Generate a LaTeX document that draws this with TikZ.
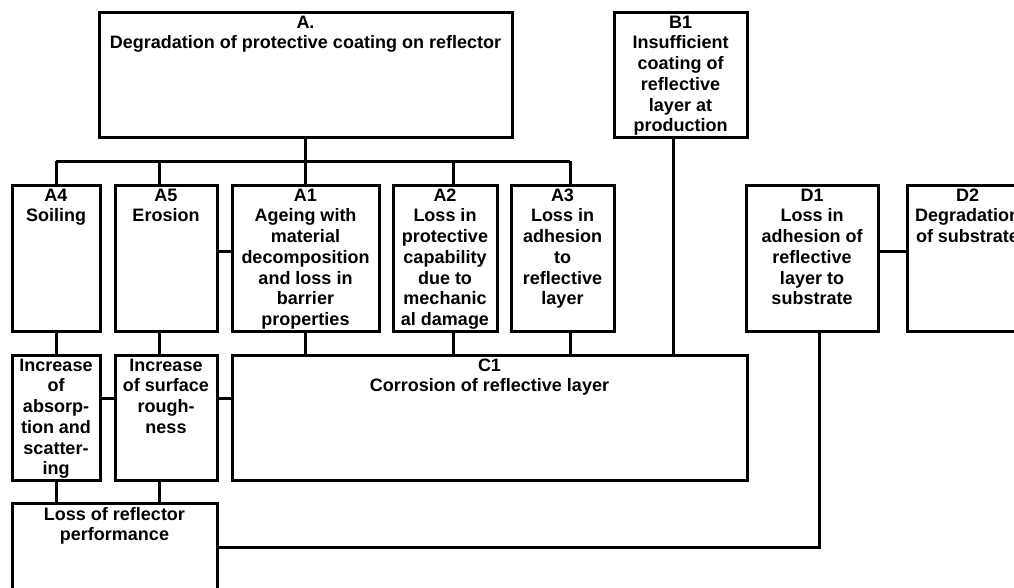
\documentclass[tikz,border=0pt]{standalone}
\usepackage{fontspec}
\setmainfont{Liberation Sans}
\newcommand{\tp}{\rule{0pt}{13.5pt}}
\begin{document}
\begin{tikzpicture}[x=1pt,y=1pt,
  box/.style={draw, line width=3pt, rectangle, inner sep=0pt},
  lbl/.style={anchor=north, inner sep=0pt, align=center,
    font=\fontsize{18}{20.7}\selectfont\bfseries, text=black},
  wire/.style={line width=3pt}]
\useasboundingbox (0,0) rectangle (1014,-587);
\clip (0,0) rectangle (1014,-587);
\fill[white] (0,0) rectangle (1014,-587);
% top boxes
\node[box, minimum width=413pt, minimum height=125pt] (A) at (305.5,-74.5) {};
\node[box, minimum width=133pt, minimum height=125pt] (B1) at (680.5,-74.5) {};
% row 1
\node[box, minimum width=88pt,  minimum height=146pt] (A4) at (56,-258) {};
\node[box, minimum width=102pt, minimum height=146pt] (A5) at (166,-258) {};
\node[box, minimum width=147pt, minimum height=146pt] (A1) at (305.5,-258) {};
\node[box, minimum width=104pt, minimum height=146pt] (A2) at (445,-258) {};
\node[box, minimum width=103pt, minimum height=146pt] (A3) at (562.5,-258) {};
\node[box, minimum width=132pt, minimum height=146pt] (D1) at (812,-258) {};
\node[box, minimum width=121pt, minimum height=146pt] (D2) at (967.5,-258) {};
% row 2
\node[box, minimum width=88pt,  minimum height=125pt] (AB) at (56,-417.5) {};
\node[box, minimum width=102pt, minimum height=125pt] (RO) at (166,-417.5) {};
\node[box, minimum width=515pt, minimum height=125pt] (C1) at (489.5,-417.5) {};
% bottom
\node[box, minimum width=205pt, minimum height=130pt] (L) at (114.5,-568) {};
% texts
\node[lbl] (tA) at ([yshift=-4pt]A.north) {\tp A.\\Degradation of protective coating on reflector};
\node[lbl] (tB1) at ([yshift=-4pt]B1.north) {\tp B1\\Insufficient\\coating of\\reflective\\layer at\\production};
\node[lbl] (tA4) at ([yshift=-4pt]A4.north) {\tp A4\\Soiling};
\node[lbl] (tA5) at ([yshift=-4pt]A5.north) {\tp A5\\Erosion};
\node[lbl] (tA1) at ([yshift=-4pt]A1.north) {\tp A1\\Ageing with\\material\\decomposition\\and loss in\\barrier\\properties};
\node[lbl] (tA2) at ([yshift=-4pt]A2.north) {\tp A2\\Loss in\\protective\\capability\\due to\\mechanic\\al damage};
\node[lbl] (tA3) at ([yshift=-4pt]A3.north) {\tp A3\\Loss in\\adhesion\\to\\reflective\\layer};
\node[lbl] (tD1) at ([yshift=-4pt]D1.north) {\tp D1\\Loss in\\adhesion of\\reflective\\layer to\\substrate};
\node[lbl] (tD2) at ([yshift=-4pt]D2.north) {\tp D2\\Degradation\\of substrate};
\node[lbl] (tAB) at ([yshift=-4pt]AB.north) {\tp Increase\\of\\absorp-\\tion and\\scatter-\\ing};
\node[lbl] (tRO) at ([yshift=-4pt]RO.north) {\tp Increase\\of surface\\rough-\\ness};
\node[lbl] (tC1) at ([yshift=-4pt]C1.north) {\tp C1\\Corrosion of reflective layer};
\node[lbl] (tL) at ([yshift=-5pt]L.north) {\tp Loss of reflector\\performance};
% connector x positions
\coordinate (x5) at (159,0);
\coordinate (x2) at (453,0);
\coordinate (x3) at (570,0);
\coordinate (xB) at (673,0);
\coordinate (xD) at (819,0);
\coordinate (bus) at (0,-161);
\coordinate (yH1) at (0,-251);
\coordinate (yH2) at (0,-398);
\coordinate (yL) at (0,-547);
% bus from A
\draw[wire] (A.south) -- (A1.north);
\draw[wire] (A4.north |- bus) -- (x3 |- bus);
\draw[wire] (A4.north |- bus) -- (A4.north);
\draw[wire] (x5 |- bus) -- (x5 |- A5.north);
\draw[wire] (x2 |- bus) -- (x2 |- A2.north);
\draw[wire] (x3 |- bus) -- (x3 |- A3.north);
% row1 to row2
\draw[wire] (A4.south) -- (AB.north);
\draw[wire] (x5 |- A5.south) -- (x5 |- RO.north);
\draw[wire] (A1.south) -- (A1.south |- C1.north);
\draw[wire] (x2 |- A2.south) -- (x2 |- C1.north);
\draw[wire] (x3 |- A3.south) -- (x3 |- C1.north);
\draw[wire] (xB |- B1.south) -- (xB |- C1.north);
% horizontal links
\draw[wire] (A5.east |- yH1) -- (A1.west |- yH1);
\draw[wire] (D1.east |- yH1) -- (D2.west |- yH1);
\draw[wire] (AB.east |- yH2) -- (RO.west |- yH2);
\draw[wire] (RO.east |- yH2) -- (C1.west |- yH2);
% row2 to bottom
\draw[wire] (AB.south) -- (AB.south |- L.north);
\draw[wire] (x5 |- RO.south) -- (x5 |- L.north);
% D1 to L
\draw[wire] (xD |- D1.south) -- (xD |- yL) -- (L.east |- yL);
\end{tikzpicture}
\end{document}
